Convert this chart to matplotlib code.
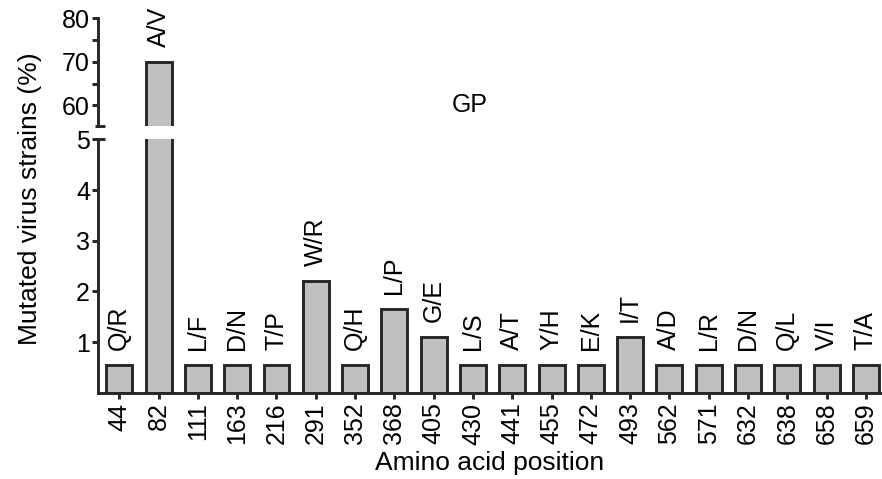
import numpy as np
import matplotlib
matplotlib.use("Agg")
import matplotlib.pyplot as plt

positions = ["44", "82", "111", "163", "216", "291", "352", "368", "405", "430",
             "441", "455", "472", "493", "562", "571", "632", "638", "658", "659"]
mutations = ["Q/R", "A/V", "L/F", "D/N", "T/P", "W/R", "Q/H", "L/P", "G/E", "L/S",
             "A/T", "Y/H", "E/K", "I/T", "A/D", "L/R", "D/N", "Q/L", "V/I", "T/A"]
percent = [0.55, 70.0, 0.55, 0.55, 0.55, 2.2, 0.55, 1.65, 1.1, 0.55,
           0.55, 0.55, 0.55, 1.1, 0.55, 0.55, 0.55, 0.55, 0.55, 0.55]

plt.rcParams["font.family"] = ["Liberation Sans", "DejaVu Sans"]
plt.rcParams["font.size"] = 18

W, H = 882, 479
fig = plt.figure(figsize=(W / 100, H / 100), dpi=100)

# two stacked axes for the broken y scale
ax_top = fig.add_axes([98.3 / W, 1 - 126.0 / H, 1 - 98.3 / W, (126.0 - 18.3) / H])
ax_bot = fig.add_axes([98.3 / W, 1 - 392.9 / H, 1 - 98.3 / W, (392.9 - 139.3) / H])

x = np.arange(len(positions))
lw = 2.1
edge = "#262626"
fill = "#c0c0c0"

for ax in (ax_top, ax_bot):
    ax.bar(x, percent, width=0.66, color=fill, edgecolor=edge, linewidth=lw)
    ax.set_xlim(-0.535, 19.41)
    for s in ("top", "right"):
        ax.spines[s].set_visible(False)
    ax.spines["left"].set_linewidth(lw)
    ax.spines["left"].set_color(edge)
    ax.tick_params(axis="y", width=lw, length=4, color=edge, pad=2)

ax_top.set_ylim(55.24, 80)
ax_top.spines["bottom"].set_visible(False)
ax_top.set_xticks([])
ax_top.set_yticks([60, 70, 80])
ax_top.set_yticks([65, 75], minor=True)
ax_top.tick_params(axis="y", which="minor", width=lw, length=4, color=edge)

ax_bot.set_ylim(0, 5.0)
ax_bot.set_yticks([1, 2, 3, 4, 5])
ax_bot.spines["bottom"].set_linewidth(lw)
ax_bot.spines["bottom"].set_color(edge)
ax_bot.set_xticks(x)
ax_bot.set_xticklabels(positions, rotation=90)
ax_bot.tick_params(axis="x", width=lw, length=4, color=edge, pad=3)

# break marks at the spine ends
ax_top.plot([-3.5 / 784, 7 / 784], [0, 0], transform=ax_top.transAxes, color=edge,
            lw=lw, clip_on=False, solid_capstyle="butt")
ax_bot.plot([-5.6 / 784, 7 / 784], [1, 1], transform=ax_bot.transAxes, color=edge,
            lw=lw, clip_on=False, solid_capstyle="butt")

# mutation labels above each bar
for xi, val, lab in zip(x, percent, mutations):
    ax = ax_top if val > 5 else ax_bot
    ax.annotate(lab, (xi, val), xytext=(0, 11), textcoords="offset points",
                rotation=90, ha="center", va="bottom", annotation_clip=False)

fig.text(470 / W, 1 - 105 / H, "GP", ha="center", va="center")
fig.text(30 / W, 1 - 199 / H, "Mutated virus strains (%)", rotation=90,
         ha="center", va="center", fontsize=19)
fig.text(490 / W, 1 - 463 / H, "Amino acid position", ha="center", va="center",
         fontsize=19)

fig.savefig("out.png", dpi=100)
